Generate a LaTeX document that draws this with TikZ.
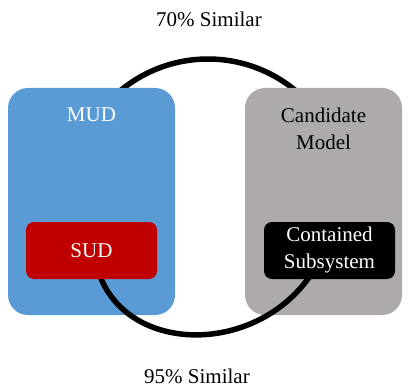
\documentclass[tikz,border=0pt]{standalone}
\usepackage{fontspec}
\setmainfont{Liberation Serif}
\definecolor{mudblue}{HTML}{5B9BD5}
\definecolor{candgrey}{HTML}{AEAAAA}
\definecolor{sudred}{HTML}{C00000}
\begin{document}
\begin{tikzpicture}[x=1pt,y=-1pt,
  bigbox/.style={rectangle, rounded corners=20pt, draw=none, minimum width=167pt, minimum height=227pt, inner sep=0pt},
  smallbox/.style={rectangle, rounded corners=8pt, draw=none, minimum width=131pt, minimum height=57pt, inner sep=0pt},
  lbl/.style={font=\fontsize{21}{27}\selectfont, align=center, inner sep=0pt},
  link/.style={draw=black, line width=5.5pt}]
\useasboundingbox (0,0) rectangle (409,390);
\coordinate (c) at (208,196);
% upper connector (behind the big boxes)
\draw[link] ([shift={(133:137pt)}]c) arc[start angle=133, end angle=47, radius=137pt];
% big boxes
\node[bigbox, fill=mudblue] (mud) at (91.5,201.5) {};
\node[bigbox, fill=candgrey, minimum width=157pt] (cand) at (323.5,201.5) {};
% lower connector (over the big boxes)
\coordinate (sudend) at (100,276);
\coordinate (subend) at (310,276);
\draw[link] (sudend) .. controls (130,354) and (255,355) .. (subend);
% small boxes
\node[smallbox, fill=sudred] (sud) at (91.5,250.5) {};
\node[smallbox, fill=black] (sub) at (329.5,250.5) {};
% texts
\node[lbl, text=white] (mudt) at (mud.center |- 0,115) {MUD};
\node[lbl, text=black] (candt) at (323.5,129) {Candidate\\Model};
\node[lbl, text=white] (sudt) at (sud.center) {SUD};
\node[lbl, text=white] (subt) at (329.5,250) {Contained\\Subsystem};
\node[lbl] (top) at (209,19) {70\% Similar};
\node[lbl] (bot) at (197,376) {95\% Similar};
\end{tikzpicture}
\end{document}
